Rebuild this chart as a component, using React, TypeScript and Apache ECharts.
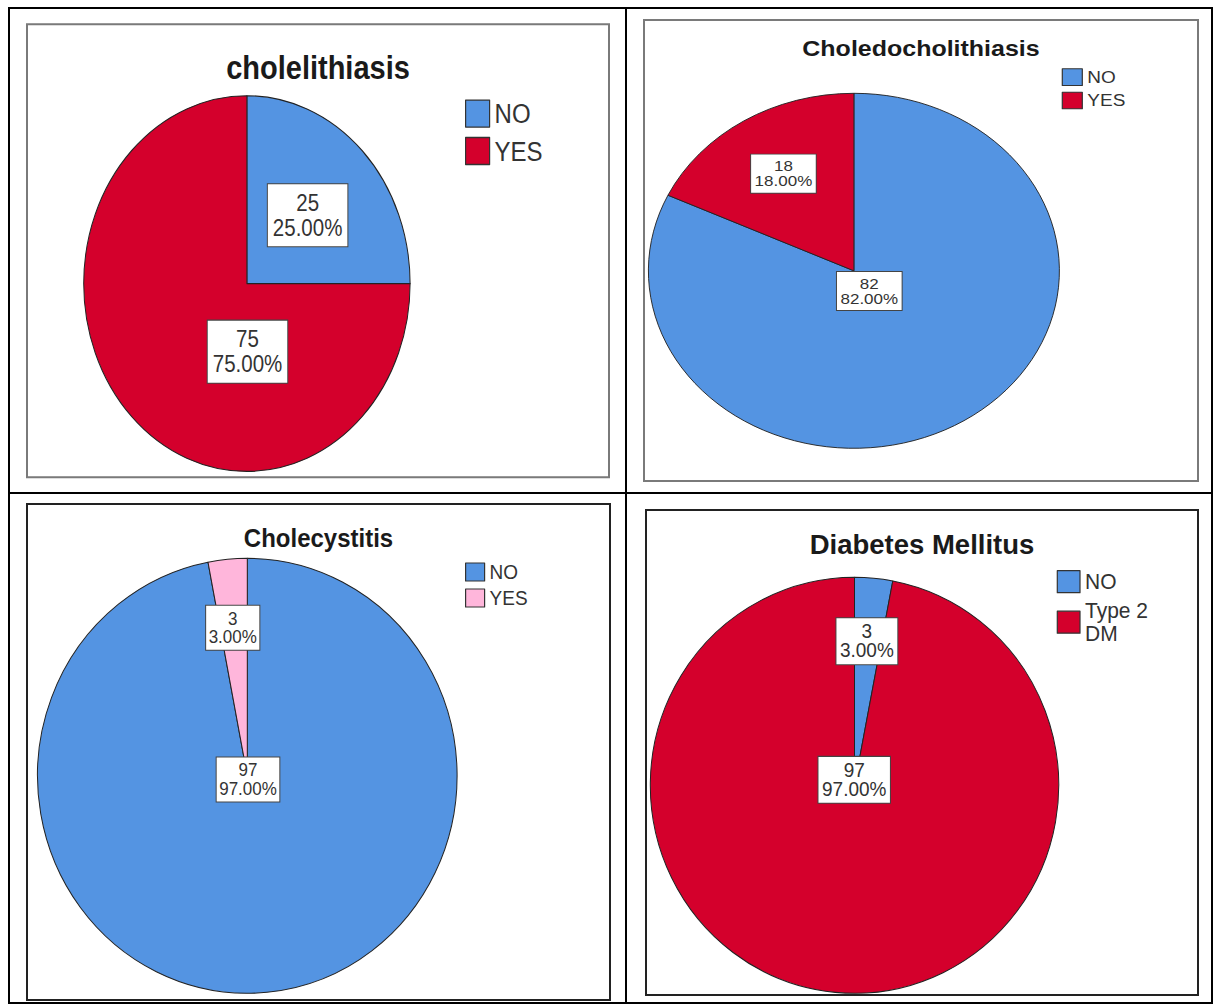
import React, { useEffect, useRef } from 'react';
import * as echarts from 'echarts';

const FONT = "'Liberation Sans', Arial, Helvetica, sans-serif";
const BLUE = '#5494E2';
const RED = '#D4002C';
const PINK = '#FFB6DB';

// ---------- Data ----------
const cholelithiasisTitle = 'cholelithiasis';
const cholelithiasisCategories = ['NO', 'YES'];
const cholelithiasisCounts = [25, 75];
const cholelithiasisColors = [BLUE, RED];

const choledocholithiasisTitle = 'Choledocholithiasis';
const choledocholithiasisCategories = ['NO', 'YES'];
const choledocholithiasisCounts = [82, 18];
const choledocholithiasisColors = [BLUE, RED];

const cholecystitisTitle = 'Cholecystitis';
const cholecystitisCategories = ['NO', 'YES'];
const cholecystitisCounts = [97, 3];
const cholecystitisColors = [BLUE, PINK];

const diabetesTitle = 'Diabetes Mellitus';
const diabetesCategories = ['NO', 'Type 2 DM'];
const diabetesCounts = [3, 97];
const diabetesColors = [BLUE, RED];

// ---------- Layout (page pixel geometry, styles) ----------
type Box = { x: number; y: number; w: number; h: number };
type Layout = {
  box: Box;
  frameColor: string;
  sy: number;
  cx: number;
  cy: number;
  r: number;
  titleCY: number;
  titleSize: number;
  legendX: number;
  legendIconTop: number;
  iconW: number;
  iconH: number;
  legendSpacing: number;
  legendFont: number;
  legendLH: number;
  legendLines: number[];
  legendWrap?: number;
  labelFont: number;
  labelLH: number;
  labelPad: [number, number];
  labelModes: string[];
  labelOffsets: [number, number][];
};

const layout1: Layout = {
  box: { x: 27, y: 24.3, w: 582, h: 453 },
  frameColor: '#7a7a7a',
  sy: 1.151,
  cx: 246.9, cy: 283.9, r: 163.2,
  titleCY: 68.3, titleSize: 29,
  legendX: 465, legendIconTop: 100, iconW: 24, iconH: 27, legendSpacing: 36.7,
  legendFont: 24, legendLH: 24, legendLines: [1, 1],
  labelFont: 20.5, labelLH: 21.7, labelPad: [5.2, 5],
  labelModes: ['inside', 'center'],
  labelOffsets: [[0.9, 0.5], [0.6, 68.1]],
};

const layout2: Layout = {
  box: { x: 644, y: 20, w: 554, h: 461 },
  frameColor: '#7a7a7a',
  sy: 0.8637,
  cx: 853.9, cy: 270.8, r: 205.5,
  titleCY: 48.5, titleSize: 25,
  legendX: 1061.7, legendIconTop: 68.3, iconW: 20, iconH: 16.7, legendSpacing: 22.3,
  legendFont: 19, legendLH: 19, legendLines: [1, 1],
  labelFont: 17, labelLH: 17.4, labelPad: [4.7, 3.5],
  labelModes: ['center', 'inside'],
  labelOffsets: [[15.4, 20.2], [-13.8, -20]],
};

const layout3: Layout = {
  box: { x: 27, y: 504, w: 583, h: 496 },
  frameColor: '#222222',
  sy: 1.0367,
  cx: 247.3, cy: 775.8, r: 209.8,
  titleCY: 538, titleSize: 24,
  legendX: 465, legendIconTop: 563, iconW: 19, iconH: 18, legendSpacing: 26,
  legendFont: 19, legendLH: 19, legendLines: [1, 1],
  labelFont: 17, labelLH: 17.7, labelPad: [3.5, 2.5],
  labelModes: ['center', 'inside'],
  labelOffsets: [[0.7, 3.7], [-4.4, -36.6]],
};

const layout4: Layout = {
  box: { x: 646, y: 510, w: 552, h: 485 },
  frameColor: '#222222',
  sy: 1.0186,
  cx: 854.5, cy: 785.3, r: 204.2,
  titleCY: 544, titleSize: 27.5,
  legendX: 1056.7, legendIconTop: 570.7, iconW: 22.7, iconH: 22, legendSpacing: 40.5,
  legendFont: 21, legendLH: 23, legendLines: [1, 2], legendWrap: 76,
  labelFont: 19, labelLH: 18.5, labelPad: [4, 3.5],
  labelModes: ['inside', 'center'],
  labelOffsets: [[2.5, -37.5], [-0.3, -5.5]],
};

type Panel = { title: string; categories: string[]; counts: number[]; colors: string[]; layout: Layout };

const panels: Panel[] = [
  { title: cholelithiasisTitle, categories: cholelithiasisCategories, counts: cholelithiasisCounts, colors: cholelithiasisColors, layout: layout1 },
  { title: choledocholithiasisTitle, categories: choledocholithiasisCategories, counts: choledocholithiasisCounts, colors: choledocholithiasisColors, layout: layout2 },
  { title: cholecystitisTitle, categories: cholecystitisCategories, counts: cholecystitisCounts, colors: cholecystitisColors, layout: layout3 },
  { title: diabetesTitle, categories: diabetesCategories, counts: diabetesCounts, colors: diabetesColors, layout: layout4 },
];

// table grid lines (page coords)
const tableLines: [number, number, number, number][] = [
  [8, 8, 1213, 8],
  [8, 1003, 1213, 1003],
  [9, 7, 9, 1004],
  [1212, 7, 1212, 1004],
  [626, 7, 626, 1004],
  [8, 493, 1213, 493],
];

function buildPieOption(p: Panel): any {
  const L = p.layout;
  const sy = L.sy;
  const ny = (py: number) => (py - L.box.y) / sy;
  const ihN = L.iconH / sy;
  const H = L.legendLines.map((n) => Math.max(ihN, n * L.legendLH));
  const gap = L.legendSpacing / sy - H[0] / 2 - H[1] / 2;
  const legendTop = ny(L.legendIconTop) - Math.max(0, (H[0] - ihN) / 2);
  const legendText: any = {
    fontSize: L.legendFont,
    lineHeight: L.legendLH,
    color: '#333333',
    fontFamily: FONT,
  };
  if (L.legendWrap) {
    legendText.width = L.legendWrap;
    legendText.overflow = 'break';
  }
  return {
    animation: false,
    backgroundColor: 'transparent',
    title: {
      text: p.title,
      left: 'center',
      top: ny(L.titleCY) - L.titleSize / 2,
      padding: 0,
      textStyle: {
        fontSize: L.titleSize,
        lineHeight: L.titleSize,
        fontWeight: 'bold',
        color: '#1a1a1a',
        fontFamily: FONT,
      },
    },
    legend: {
      orient: 'vertical',
      left: L.legendX - L.box.x,
      top: legendTop,
      padding: 0,
      itemWidth: L.iconW,
      itemHeight: ihN,
      itemGap: gap,
      icon: 'rect',
      selectedMode: false,
      itemStyle: { borderColor: '#333333', borderWidth: 1.2 },
      textStyle: legendText,
      data: p.categories,
    },
    series: [
      {
        type: 'pie',
        center: [L.cx - L.box.x, ny(L.cy)],
        radius: [0, L.r],
        startAngle: 90,
        clockwise: true,
        avoidLabelOverlap: false,
        silent: true,
        labelLine: { show: false },
        itemStyle: { borderColor: '#222222', borderWidth: 1 },
        label: {
          show: true,
          formatter: (q: any) => `${q.value}\n${Number(q.percent).toFixed(2)}%`,
          backgroundColor: '#ffffff',
          borderColor: '#444444',
          borderWidth: 1,
          padding: L.labelPad,
          fontSize: L.labelFont,
          lineHeight: L.labelLH,
          color: '#333333',
          fontFamily: FONT,
          align: 'center',
        },
        data: p.categories.map((name, i) => ({
          name,
          value: p.counts[i],
          itemStyle: { color: p.colors[i] },
          label: {
            position: L.labelModes[i],
            offset: [L.labelOffsets[i][0], L.labelOffsets[i][1] / sy],
          },
        })),
      },
    ],
  };
}

function PiePanel({ panel }: { panel: Panel }) {
  const ref = useRef<HTMLDivElement>(null);
  const L = panel.layout;
  const nativeH = L.box.h / L.sy;
  useEffect(() => {
    if (!ref.current) return;
    const chart = echarts.init(ref.current, null, { renderer: 'svg' });
    chart.setOption(buildPieOption(panel));
    return () => chart.dispose();
  }, []);
  return (
    <div
      ref={ref}
      style={{
        position: 'absolute',
        left: L.box.x,
        top: L.box.y,
        width: L.box.w,
        height: nativeH,
        transform: `scaleY(${L.sy})`,
        transformOrigin: '0 0',
      }}
    />
  );
}

function Background() {
  const ref = useRef<HTMLDivElement>(null);
  useEffect(() => {
    if (!ref.current) return;
    const chart = echarts.init(ref.current, null, { renderer: 'svg' });
    const graphic: any[] = [];
    tableLines.forEach(([x1, y1, x2, y2]) => {
      graphic.push({
        type: 'line',
        shape: { x1, y1, x2, y2 },
        style: { stroke: '#000000', lineWidth: 2 },
        silent: true,
      });
    });
    panels.forEach((p) => {
      const b = p.layout.box;
      graphic.push({
        type: 'rect',
        shape: { x: b.x, y: b.y, width: b.w, height: b.h },
        style: { fill: 'none', stroke: p.layout.frameColor, lineWidth: 2 },
        silent: true,
      });
    });
    chart.setOption({ animation: false, backgroundColor: '#ffffff', graphic });
    return () => chart.dispose();
  }, []);
  return <div ref={ref} style={{ position: 'absolute', left: 0, top: 0, width: 1214, height: 1005 }} />;
}

export default function App() {
  return (
    <div style={{ position: 'absolute', left: 0, top: 0, width: 1214, height: 1005, background: '#ffffff', overflow: 'hidden' }}>
      <Background />
      {panels.map((p, i) => (
        <PiePanel key={i} panel={p} />
      ))}
    </div>
  );
}
